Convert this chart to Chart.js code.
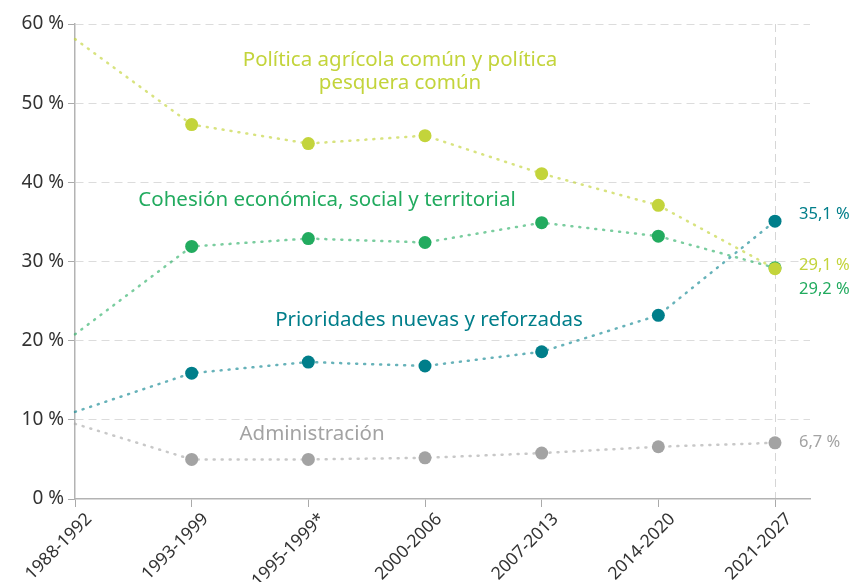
<!DOCTYPE html>
<html>
<head>
<meta charset="utf-8">
<script src="https://cdn.jsdelivr.net/npm/chart.js@4"></script>
<style>
  html, body { margin: 0; padding: 0; background: #fff; }
  #wrap { width: 854px; height: 582px; }
</style>
</head>
<body>
<div id="wrap"><canvas id="mffChart" width="854" height="582"></canvas></div>
<script>
// periods of the multiannual frameworks
var periods = ['1988-1992', '1993-1999', '1995-1999*', '2000-2006', '2007-2013', '2014-2020', '2021-2027'];

// shares of the budget, %
var pac = [58.1, 47.3, 44.9, 45.9, 41.1, 37.1, 29.1];
var cohesion = [20.8, 31.9, 32.9, 32.4, 34.9, 33.2, 29.2];
var priorities = [11.0, 15.9, 17.3, 16.8, 18.6, 23.2, 35.1];
var admin = [9.5, 5.0, 5.0, 5.2, 5.8, 6.6, 7.1];

var yTicks = [0, 10, 20, 30, 40, 50, 60];

var colPac = '#c3d43b';
var colCoh = '#22ab5f';
var colPri = '#007e8a';
var colAdm = '#a3a3a3';

var FONT = '"Noto Sans", "Open Sans", sans-serif';

function toPoints(arr) {
    return arr.map(function (v, i) { return { x: i, y: v }; });
}

function series(label, data, color, lineColor) {
    return {
        label: label,
        data: toPoints(data),
        borderColor: lineColor,
        backgroundColor: color,
        pointBackgroundColor: color,
        pointBorderWidth: 0,
        pointRadius: function (ctx) { return ctx.dataIndex === 0 ? 0 : 6.5; },
        borderWidth: 2.5,
        borderDash: [1, 7],
        borderCapStyle: 'round',
        tension: 0,
        clip: false
    };
}

// free text labels drawn on the chart
var textLabels = {
    id: 'textLabels',
    afterDatasetsDraw: function (chart) {
        var ctx = chart.ctx;
        var xs = chart.scales.x;
        var ys = chart.scales.y;
        ctx.save();
        ctx.textBaseline = 'middle';

        // series names
        ctx.font = '20.5px ' + FONT;
        ctx.textAlign = 'center';
        ctx.fillStyle = colPac;
        ctx.fillText('Política agrícola común y política', 400, 60);
        ctx.fillText('pesquera común', 400, 83);
        ctx.fillStyle = colCoh;
        ctx.fillText('Cohesión económica, social y territorial', 327, 200);
        ctx.fillStyle = colPri;
        ctx.fillText('Prioridades nuevas y reforzadas', 429, 320);
        ctx.fillStyle = colAdm;
        ctx.fillText('Administración', 312, 434);

        // end values
        var xEnd = xs.getPixelForValue(6) + 24;
        ctx.font = '16.5px ' + FONT;
        ctx.textAlign = 'left';
        ctx.fillStyle = colPri;
        ctx.fillText('35,1 %', xEnd, ys.getPixelForValue(priorities[6]) - 7);
        ctx.fillStyle = colPac;
        ctx.fillText('29,1 %', xEnd, ys.getPixelForValue(pac[6]) - 3);
        ctx.fillStyle = colCoh;
        ctx.fillText('29,2 %', xEnd, ys.getPixelForValue(cohesion[6]) + 21);
        ctx.fillStyle = colAdm;
        ctx.fillText('6,7 %', xEnd, ys.getPixelForValue(admin[6]));
        ctx.restore();
    }
};

var ctx = document.getElementById('mffChart').getContext('2d');
new Chart(ctx, {
    type: 'line',
    data: {
        datasets: [
            series('Política agrícola común y política pesquera común', pac, colPac, 'rgba(195,212,59,0.65)'),
            series('Cohesión económica, social y territorial', cohesion, colCoh, 'rgba(34,171,95,0.6)'),
            series('Prioridades nuevas y reforzadas', priorities, colPri, 'rgba(0,126,138,0.6)'),
            series('Administración', admin, colAdm, 'rgba(163,163,163,0.6)')
        ]
    },
    options: {
        responsive: false,
        animation: false,
        layout: { padding: { top: 24, right: 44, left: 0, bottom: 0 } },
        plugins: {
            legend: { display: false },
            tooltip: { enabled: false }
        },
        scales: {
            x: {
                type: 'linear',
                min: 0,
                max: 6.3,
                afterBuildTicks: function (axis) {
                    axis.ticks = periods.map(function (p, i) { return { value: i }; });
                },
                afterFit: function (axis) { axis.height = 83; },
                ticks: {
                    autoSkip: false,
                    minRotation: 45,
                    maxRotation: 45,
                    color: '#333',
                    font: { family: FONT, size: 17.5 },
                    padding: 2,
                    labelOffset: 14,
                    callback: function (v) { return periods[v]; }
                },
                grid: {
                    color: function (c) { return c.tick && c.tick.value === 6 ? '#d6d6d6' : 'rgba(0,0,0,0)'; },
                    tickColor: '#aaa',
                    tickLength: 8,
                    lineWidth: 1
                },
                border: { color: '#b3b3b3', width: 1.5, dash: [8, 5] }
            },
            y: {
                min: 0,
                max: 60,
                afterBuildTicks: function (axis) {
                    axis.ticks = yTicks.map(function (v) { return { value: v }; });
                },
                afterFit: function (axis) { axis.width = 75; },
                ticks: {
                    color: '#333',
                    font: { family: FONT, size: 19 },
                    padding: 4,
                    callback: function (v) { return v + ' %'; }
                },
                grid: {
                    color: function (c) { return c.tick && c.tick.value === 0 ? 'rgba(0,0,0,0)' : '#dcdcdc'; },
                    tickColor: '#aaa',
                    tickLength: 7,
                    lineWidth: 1
                },
                border: { color: '#b3b3b3', width: 1.5, dash: [8, 5] }
            }
        }
    },
    plugins: [textLabels]
});
</script>
</body>
</html>
